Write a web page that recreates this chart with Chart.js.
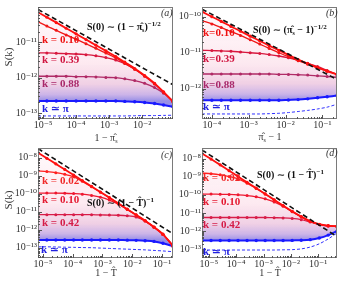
<!DOCTYPE html>
<html>
<head>
<meta charset="utf-8">
<script src="https://cdn.jsdelivr.net/npm/chart.js@4.4.1/dist/chart.umd.min.js"></script>
<style>
body { margin: 0; background: #fff; }
#fig { position: relative; width: 341px; height: 284px; overflow: hidden; font-family: 'Liberation Serif', 'DejaVu Serif', serif; }
#fig canvas { position: absolute; }
.t { position: absolute; white-space: nowrap; line-height: 1; }
.t sub, .t sup { line-height: 0; vertical-align: baseline; position: relative; }
.t sub { top: 2px; font-size: 6px; }
.t sup { top: -4px; font-size: 7px; }
.k { font-weight: bold; font-size: 11px; }
.s0 { font-weight: bold; font-size: 10px; color: #111; }
.pl { font-style: italic; font-size: 10px; color: #333; }
.ax { font-size: 10px; color: #333; transform: translateX(-50%); }
.yt { font-size: 11px; color: #333; transform: translate(-50%, -50%) rotate(-90deg); }
</style>
</head>
<body>
<div id="fig">
<canvas id="chartA" width="177" height="143" style="left:0;top:0"></canvas>
<canvas id="chartB" width="171" height="143" style="left:170px;top:0"></canvas>
<canvas id="chartC" width="177" height="143" style="left:0;top:141px"></canvas>
<canvas id="chartD" width="171" height="143" style="left:170px;top:141px"></canvas>

<div class="t pl" style="left:161px;top:8px">(a)</div>
<div class="t s0" style="left:87px;top:22px">S(0) ∼ (1 − π̂<sub>s</sub>)<sup>−1/2</sup></div>
<div class="t k" style="left:42px;top:34px;color:#ee1111">k = 0.10</div>
<div class="t k" style="left:42px;top:54px;color:#d01540">k = 0.39</div>
<div class="t k" style="left:42px;top:78px;color:#a8286a">k = 0.88</div>
<div class="t k" style="left:42px;top:103px;color:#2020e0">k ≃ π</div>

<div class="t pl" style="left:326px;top:8px">(b)</div>
<div class="t s0" style="left:253px;top:25px">S(0) ∼ (π̂<sub>s</sub> − 1)<sup>−1/2</sup></div>
<div class="t k" style="left:203px;top:27px;color:#ee1111">k=0.10</div>
<div class="t k" style="left:203px;top:53px;color:#d01540">k=0.39</div>
<div class="t k" style="left:203px;top:79px;color:#a8286a">k=0.88</div>
<div class="t k" style="left:203px;top:101px;color:#2020e0">k ≃ π</div>

<div class="t pl" style="left:161px;top:150px">(c)</div>
<div class="t s0" style="left:87px;top:198px">S(0) ∼ (1 − T̂)<sup>−1</sup></div>
<div class="t k" style="left:42px;top:175px;color:#f02828">k = 0.02</div>
<div class="t k" style="left:42px;top:194px;color:#e41830">k = 0.10</div>
<div class="t k" style="left:42px;top:217px;color:#d41c48">k = 0.42</div>
<div class="t k" style="left:41px;top:244px;color:#2020e0">k ≃ π</div>

<div class="t pl" style="left:326px;top:148px">(d)</div>
<div class="t s0" style="left:257px;top:170px">S(0) ∼ (1 − T̂)<sup>−1</sup></div>
<div class="t k" style="left:203px;top:172px;color:#f02828">k = 0.02</div>
<div class="t k" style="left:203px;top:196px;color:#e41830">k = 0.10</div>
<div class="t k" style="left:203px;top:219px;color:#d41c48">k = 0.42</div>
<div class="t k" style="left:203px;top:246px;color:#2020e0">k ≃ π</div>

<div class="t yt" style="left:8px;top:57px">S(k)</div>
<div class="t yt" style="left:8px;top:200px">S(k)</div>
<div class="t ax" style="left:106px;top:133px">1 − π̂<sub>s</sub></div>
<div class="t ax" style="left:270px;top:132px">π̂<sub>s</sub> − 1</div>
<div class="t ax" style="left:106px;top:268px">1 − T̂</div>
<div class="t ax" style="left:270px;top:268px">1 − T̂</div>
</div>

<script>

// panel (a)
const xA = [7e-6, 1.3e-5, 2.5e-5, 5e-5, 1e-4, 2e-4, 4e-4, 8e-4, 1.6e-3, 3e-3, 6e-3, 1.2e-2, 2.4e-2, 4.5e-2, 8.7e-2];
const lineXA = [7e-6, 8.7e-2];
const lineYA = [8.51e-11, 6.31e-13];
const topA = [7.08e-11, 5.13e-11, 3.63e-11, 2.51e-11, 1.74e-11, 1.20e-11, 8.32e-12, 5.75e-12, 3.98e-12, 2.75e-12, 1.82e-12, 1.15e-12, 6.92e-13, 3.98e-13, 2.09e-13];
const k1A = [3.80e-11, 2.88e-11, 2.19e-11, 1.62e-11, 1.23e-11, 9.12e-12, 6.76e-12, 5.01e-12, 3.63e-12, 2.57e-12, 1.74e-12, 1.12e-12, 6.76e-13, 3.89e-13, 2.09e-13];
const k2A = [5.01e-12, 5.01e-12, 4.90e-12, 4.79e-12, 4.68e-12, 4.47e-12, 4.17e-12, 3.72e-12, 3.16e-12, 2.51e-12, 1.74e-12, 1.10e-12, 6.61e-13, 3.89e-13, 2.14e-13];
const k3A = [1.10e-12, 1.10e-12, 1.10e-12, 1.10e-12, 1.07e-12, 1.07e-12, 1.05e-12, 1.02e-12, 1.0e-12, 9.33e-13, 8.32e-13, 6.92e-13, 5.25e-13, 3.63e-13, 2.19e-13];
const blueA = [2.19e-13, 2.19e-13, 2.19e-13, 2.19e-13, 2.19e-13, 2.19e-13, 2.19e-13, 2.19e-13, 2.19e-13, 2.14e-13, 2.09e-13, 2.0e-13, 1.86e-13, 1.70e-13, 1.51e-13];
const blueDashA = [8.3e-14, 8.3e-14, 8.3e-14, 8.3e-14, 8.3e-14, 8.3e-14, 8.3e-14, 8.3e-14, 8.3e-14, 8.3e-14, 8.4e-14, 8.5e-14, 8.5e-14, 8.6e-14, 8.7e-14];
const xTicksA = [1e-5, 1e-4, 1e-3, 1e-2];
const xLabelsA = ['10⁻⁵', '10⁻⁴', '10⁻³', '10⁻²'];
const yTicksA = [1e-13, 1e-12, 1e-11];
const yLabelsA = ['10⁻¹³', '10⁻¹²', '10⁻¹¹'];

// panel (b)
const xB = [5.4e-5, 1e-4, 1.8e-4, 3.3e-4, 6e-4, 1.1e-3, 2e-3, 3.6e-3, 6.6e-3, 1.2e-2, 2.2e-2, 4e-2, 7.4e-2, 0.135, 0.25];
const lineXB = [5.4e-5, 0.25];
const lineYB = [1.62e-10, 1.82e-12];
const topB = [1.38e-10, 1.0e-10, 7.41e-11, 5.37e-11, 3.98e-11, 2.88e-11, 2.14e-11, 1.58e-11, 1.17e-11, 8.71e-12, 6.46e-12, 5.01e-12, 3.89e-12, 3.09e-12, 2.51e-12];
const k1B = [7.76e-11, 6.31e-11, 5.01e-11, 3.89e-11, 3.02e-11, 2.29e-11, 1.74e-11, 1.32e-11, 1.0e-11, 7.76e-12, 6.03e-12, 4.79e-12, 3.80e-12, 3.09e-12, 2.51e-12];
const k2B = [1.17e-11, 1.15e-11, 1.12e-11, 1.10e-11, 1.05e-11, 1.0e-11, 9.55e-12, 8.91e-12, 8.13e-12, 7.24e-12, 6.17e-12, 5.13e-12, 4.17e-12, 3.24e-12, 2.51e-12];
const k3B = [2.57e-12, 2.57e-12, 2.57e-12, 2.57e-12, 2.57e-12, 2.57e-12, 2.57e-12, 2.57e-12, 2.51e-12, 2.51e-12, 2.45e-12, 2.40e-12, 2.29e-12, 2.19e-12, 2.09e-12];
const blueB = [4.79e-13, 4.79e-13, 4.79e-13, 4.79e-13, 4.79e-13, 4.79e-13, 4.79e-13, 4.79e-13, 4.79e-13, 4.90e-13, 5.01e-13, 5.25e-13, 5.62e-13, 6.03e-13, 6.46e-13];
const blueDashB = [2.0e-13, 2.0e-13, 2.0e-13, 2.0e-13, 2.0e-13, 2.0e-13, 2.0e-13, 2.04e-13, 2.09e-13, 2.19e-13, 2.34e-13, 2.51e-13, 2.75e-13, 3.09e-13, 3.72e-13];
const xTicksB = [1e-4, 1e-3, 1e-2, 1e-1];
const xLabelsB = ['10⁻⁴', '10⁻³', '10⁻²', '10⁻¹'];
const yTicksB = [1e-12, 1e-11, 1e-10];
const yLabelsB = ['10⁻¹²', '10⁻¹¹', '10⁻¹⁰'];

// panel (c)
const xC = [6.8e-6, 1.35e-5, 2.7e-5, 5.4e-5, 1.07e-4, 2.1e-4, 4.3e-4, 8.5e-4, 1.7e-3, 3.4e-3, 6.8e-3, 1.35e-2, 2.7e-2, 5.4e-2, 0.107, 0.234];
const lineXC = [6.8e-6, 0.234];
const lineYC = [3.16e-8, 5.89e-13];
const topC = [1.86e-8, 9.12e-9, 4.47e-9, 2.19e-9, 1.07e-9, 5.25e-10, 2.51e-10, 1.23e-10, 6.03e-11, 2.88e-11, 1.38e-11, 6.61e-12, 3.16e-12, 1.41e-12, 5.62e-13, 1.26e-13];
const k1C = [1.82e-9, 1.66e-9, 1.45e-9, 1.17e-9, 8.51e-10, 4.79e-10, 2.40e-10, 1.20e-10, 5.89e-11, 2.82e-11, 1.35e-11, 6.46e-12, 3.09e-12, 1.38e-12, 5.50e-13, 1.26e-13];
const k2C = [1.07e-10, 1.07e-10, 1.07e-10, 1.05e-10, 1.0e-10, 9.33e-11, 7.94e-11, 6.31e-11, 4.37e-11, 2.63e-11, 1.32e-11, 6.46e-12, 3.09e-12, 1.38e-12, 5.50e-13, 1.26e-13];
const k3C = [6.76e-12, 6.76e-12, 6.76e-12, 6.76e-12, 6.76e-12, 6.76e-12, 6.76e-12, 6.61e-12, 6.46e-12, 6.31e-12, 5.89e-12, 5.01e-12, 3.02e-12, 1.35e-12, 5.37e-13, 1.26e-13];
const blueC = [2.69e-13, 2.69e-13, 2.69e-13, 2.69e-13, 2.69e-13, 2.69e-13, 2.69e-13, 2.69e-13, 2.69e-13, 2.69e-13, 2.63e-13, 2.57e-13, 2.45e-13, 2.24e-13, 1.78e-13, 1.20e-13];
const blueDashC = [1.12e-13, 1.12e-13, 1.10e-13, 1.07e-13, 1.05e-13, 1.02e-13, 1.0e-13, 9.55e-14, 9.12e-14, 8.71e-14, 8.32e-14, 7.94e-14, 7.59e-14, 7.08e-14, 6.61e-14, 6.03e-14];
const xTicksC = [1e-5, 1e-4, 1e-3, 1e-2, 1e-1];
const xLabelsC = ['10⁻⁵', '10⁻⁴', '10⁻³', '10⁻²', '10⁻¹'];
const yTicksC = [1e-13, 1e-12, 1e-11, 1e-10, 1e-9, 1e-8];
const yLabelsC = ['10⁻¹³', '10⁻¹²', '10⁻¹¹', '10⁻¹⁰', '10⁻⁹', '10⁻⁸'];

// panel (d)
const xD = [5.6e-6, 1.2e-5, 2.6e-5, 5.5e-5, 1.17e-4, 2.5e-4, 5.4e-4, 1.15e-3, 2.45e-3, 5.2e-3, 1.12e-2, 2.4e-2, 5.1e-2, 0.11, 0.234, 0.49];
const lineXD = [5.6e-6, 0.49];
const lineYD = [2.95e-8, 5.01e-13];
const topD = [1.91e-8, 9.33e-9, 4.47e-9, 2.14e-9, 1.02e-9, 4.90e-10, 2.34e-10, 1.12e-10, 5.37e-11, 2.57e-11, 1.23e-11, 6.31e-12, 3.55e-12, 2.40e-12, 2.0e-12, 1.86e-12];
const k1D = [1.58e-9, 1.45e-9, 1.26e-9, 1.02e-9, 7.59e-10, 4.37e-10, 2.24e-10, 1.10e-10, 5.25e-11, 2.51e-11, 1.20e-11, 6.17e-12, 3.47e-12, 2.34e-12, 1.95e-12, 1.82e-12];
const k2D = [1.10e-10, 1.10e-10, 1.07e-10, 1.05e-10, 1.0e-10, 9.12e-11, 7.76e-11, 6.03e-11, 4.07e-11, 2.34e-11, 1.17e-11, 6.03e-12, 3.39e-12, 2.29e-12, 1.91e-12, 1.78e-12];
const k3D = [5.62e-12, 5.62e-12, 5.62e-12, 5.62e-12, 5.62e-12, 5.62e-12, 5.62e-12, 5.62e-12, 5.50e-12, 5.37e-12, 5.01e-12, 4.27e-12, 3.16e-12, 2.29e-12, 1.91e-12, 1.82e-12];
const blueD = [3.02e-13, 3.02e-13, 3.02e-13, 3.02e-13, 3.02e-13, 3.02e-13, 3.02e-13, 3.02e-13, 3.02e-13, 3.02e-13, 3.09e-13, 3.16e-13, 3.39e-13, 4.17e-13, 6.03e-13, 1.0e-12];
const blueDashD = [9.12e-14, 9.12e-14, 9.12e-14, 9.12e-14, 9.12e-14, 9.12e-14, 9.12e-14, 9.12e-14, 9.12e-14, 9.33e-14, 9.55e-14, 1.05e-13, 1.32e-13, 2.0e-13, 3.72e-13, 7.94e-13];
const xTicksD = [1e-5, 1e-4, 1e-3, 1e-2, 1e-1];
const xLabelsD = ['10⁻⁵', '10⁻⁴', '10⁻³', '10⁻²', '10⁻¹'];
const yTicksD = [1e-13, 1e-12, 1e-11, 1e-10, 1e-9, 1e-8];
const yLabelsD = ['10⁻¹³', '10⁻¹²', '10⁻¹¹', '10⁻¹⁰', '10⁻⁹', '10⁻⁸'];


const tickFont = { family: "'Liberation Serif', 'DejaVu Serif', serif", size: 10 };


const toPoints = (xs, ys) => xs.map((x, i) => ({ x: x, y: ys[i] }));


const logTicks = (min, max) => {

    const ticks = [];
    let exp = Math.floor(Math.log10(min));

    while (Math.pow(10, exp) <= max) {

        for (let m = 1; m <= 9; m++) {

            const v = m * Math.pow(10, exp);
            if (v >= min && v <= max) ticks.push({ value: v });

        }

        exp++;

    }

    return ticks;

};


const labelFor = (value, ticks, labels) => {

    const i = ticks.findIndex(t => Math.abs(t - value) / t < 1e-6);
    return i >= 0 ? labels[i] : '';

};


const framePlugin = {

    id: 'frame',

    afterDatasetsDraw(chart) {

        const { ctx, chartArea: a, scales } = chart;

        ctx.save();
        ctx.strokeStyle = '#7a7a7a';
        ctx.lineWidth = 1;
        ctx.strokeRect(a.left + 0.5, a.top + 0.5, a.right - a.left - 1, a.bottom - a.top - 1);

        ctx.strokeStyle = '#555';

        for (const t of scales.x.ticks) {

            const px = Math.round(scales.x.getPixelForValue(t.value)) + 0.5;
            const len = t.label ? 4 : 2;
            ctx.beginPath();
            ctx.moveTo(px, a.bottom);
            ctx.lineTo(px, a.bottom - len);
            ctx.stroke();

        }

        for (const t of scales.y.ticks) {

            const py = Math.round(scales.y.getPixelForValue(t.value)) + 0.5;
            const len = t.label ? 4 : 2;
            ctx.beginPath();
            ctx.moveTo(a.left, py);
            ctx.lineTo(a.left + len, py);
            ctx.stroke();

        }

        ctx.restore();

    }

};


const drawPanel = (canvasId, p) => {

    const fillGradient = (context) => {

        const { chart } = context;
        const { ctx, chartArea } = chart;
        if (!chartArea) return 'rgba(245,200,215,0.4)';

        const yBottom = chart.scales.y.getPixelForValue(p.blue[0]);
        const g = ctx.createLinearGradient(0, chartArea.top, 0, yBottom);
        g.addColorStop(0, 'rgba(255,242,246,0.5)');
        g.addColorStop(0.6, 'rgba(252,224,234,0.7)');
        g.addColorStop(0.82, 'rgba(236,196,222,0.8)');
        g.addColorStop(0.93, 'rgba(196,168,228,0.85)');
        g.addColorStop(1, 'rgba(140,130,228,0.9)');
        return g;

    };

    const markerLine = (ys, color, width, radius) => ({
        data: toPoints(p.x, ys),
        borderColor: color,
        backgroundColor: color,
        pointBackgroundColor: color,
        pointBorderColor: color,
        borderWidth: width,
        pointRadius: radius,
        pointBorderWidth: 0,
        fill: false,
        tension: 0.3,
    });

    const topSet = markerLine(p.top, p.colors[0], 1.8, 1.6);
    topSet.fill = 5;
    topSet.backgroundColor = fillGradient;

    const datasets = [
        {
            data: toPoints(p.lineX, p.lineY),
            borderColor: '#111',
            borderWidth: 1.6,
            borderDash: [5, 3],
            pointRadius: 0,
            fill: false,
        },
        topSet,
        markerLine(p.k1, p.colors[1], 1.3, 1.5),
        markerLine(p.k2, p.colors[2], 1.3, 1.5),
        markerLine(p.k3, p.colors[3], 1.3, 1.5),
        markerLine(p.blue, '#1a1aff', 2, 1.7),
        {
            data: toPoints(p.x, p.blueDash),
            borderColor: '#3030ff',
            borderWidth: 1,
            borderDash: [3, 2],
            pointRadius: 0,
            fill: false,
            tension: 0.3,
        },
    ];

    new Chart(document.getElementById(canvasId), {
        type: 'line',
        data: { datasets: datasets },
        options: {
            responsive: false,
            animation: false,
            devicePixelRatio: 1,
            layout: { padding: { left: 0, right: p.padRight, top: p.padTop, bottom: 0 } },
            plugins: {
                legend: { display: false },
                tooltip: { enabled: false },
                filler: { drawTime: 'beforeDatasetsDraw' },
            },
            scales: {
                x: {
                    type: 'logarithmic',
                    min: p.xMin,
                    max: p.xMax,
                    grid: { display: false, drawTicks: false },
                    border: { display: false },
                    afterBuildTicks: (scale) => { scale.ticks = logTicks(p.xMin, p.xMax); },
                    afterFit: (scale) => { scale.height = p.xh; },
                    ticks: {
                        autoSkip: false,
                        maxRotation: 0,
                        minRotation: 0,
                        padding: 0,
                        color: '#333',
                        font: tickFont,
                        callback: (value) => labelFor(value, p.xTicks, p.xLabels),
                    },
                },
                y: {
                    type: 'logarithmic',
                    min: p.yMin,
                    max: p.yMax,
                    grid: { display: false, drawTicks: false },
                    border: { display: false },
                    afterBuildTicks: (scale) => { scale.ticks = logTicks(p.yMin, p.yMax); },
                    afterFit: (scale) => { scale.width = p.yw; },
                    ticks: {
                        autoSkip: false,
                        padding: 1,
                        color: '#333',
                        font: tickFont,
                        callback: (value) => labelFor(value, p.yTicks, p.yLabels),
                    },
                },
            },
        },
        plugins: [framePlugin],
    });

};


drawPanel('chartA', {
    x: xA, lineX: lineXA, lineY: lineYA, top: topA, k1: k1A, k2: k2A, k3: k3A, blue: blueA, blueDash: blueDashA,
    colors: ['#ff1010', '#f01818', '#d8183f', '#b02a66'],
    xMin: 7e-6, xMax: 8.7e-2, yMin: 6.8e-14, yMax: 1e-10,
    xTicks: xTicksA, xLabels: xLabelsA, yTicks: yTicksA, yLabels: yLabelsA,
    yw: 38, xh: 24, padRight: 3, padTop: 2,
});

drawPanel('chartB', {
    x: xB, lineX: lineXB, lineY: lineYB, top: topB, k1: k1B, k2: k2B, k3: k3B, blue: blueB, blueDash: blueDashB,
    colors: ['#ff1010', '#f01818', '#d8183f', '#b02a66'],
    xMin: 5.4e-5, xMax: 0.25, yMin: 1.45e-13, yMax: 1.86e-10,
    xTicks: xTicksB, xLabels: xLabelsB, yTicks: yTicksB, yLabels: yLabelsB,
    yw: 32, xh: 24, padRight: 3, padTop: 2,
});

drawPanel('chartC', {
    x: xC, lineX: lineXC, lineY: lineYC, top: topC, k1: k1C, k2: k2C, k3: k3C, blue: blueC, blueDash: blueDashC,
    colors: ['#ff1010', '#ff2020', '#ee1830', '#d81c48'],
    xMin: 6.8e-6, xMax: 0.234, yMin: 2.69e-14, yMax: 3.39e-8,
    xTicks: xTicksC, xLabels: xLabelsC, yTicks: yTicksC, yLabels: yLabelsC,
    yw: 38, xh: 26, padRight: 3, padTop: 3,
});

drawPanel('chartD', {
    x: xD, lineX: lineXD, lineY: lineYD, top: topD, k1: k1D, k2: k2D, k3: k3D, blue: blueD, blueDash: blueDashD,
    colors: ['#ff1010', '#ff2020', '#ee1830', '#d81c48'],
    xMin: 5.6e-6, xMax: 0.49, yMin: 3.31e-14, yMax: 3.8e-8,
    xTicks: xTicksD, xLabels: xLabelsD, yTicks: yTicksD, yLabels: yLabelsD,
    yw: 32, xh: 26, padRight: 3, padTop: 3,
});

</script>
</body>
</html>
